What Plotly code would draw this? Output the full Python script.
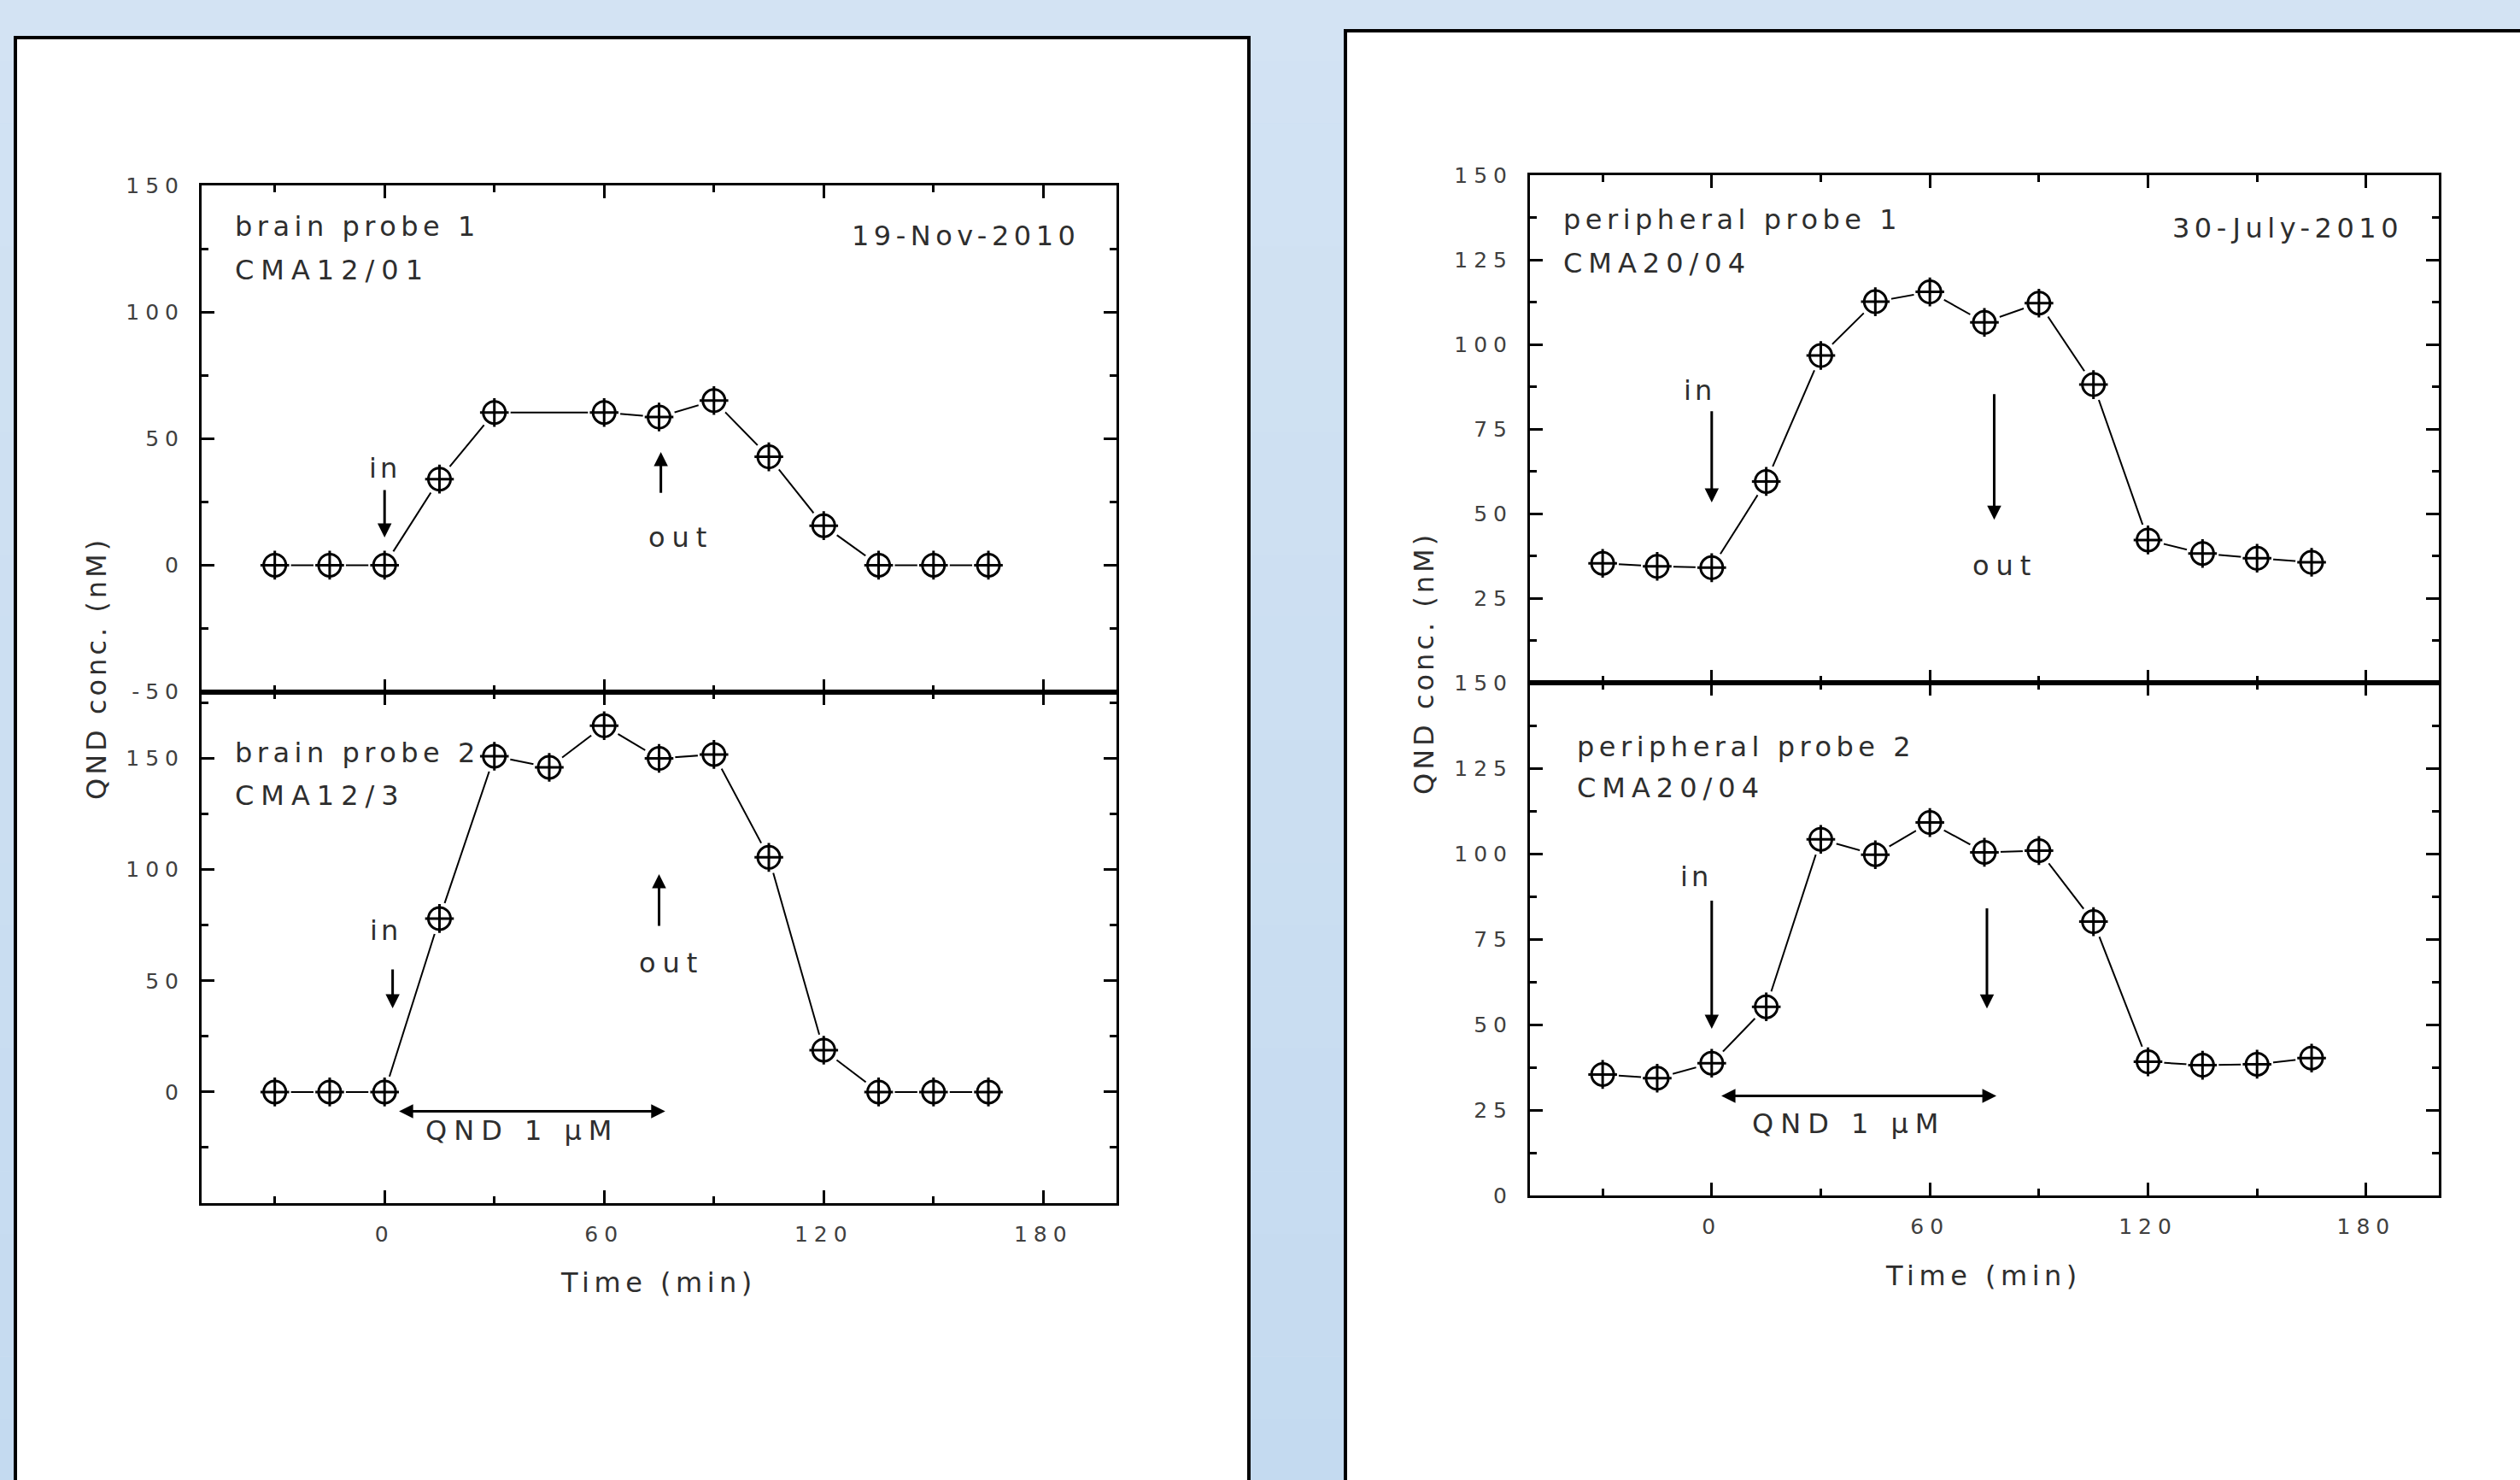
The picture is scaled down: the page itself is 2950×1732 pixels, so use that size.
import plotly.graph_objects as go

W, H = 2950, 1732

# ---------------- data ----------------
time_min = [-30, -15, 0, 15, 30, 45, 60, 75, 90, 105, 120, 135, 150, 165]
brain1_time = [-30, -15, 0, 15, 30, 60, 75, 90, 105, 120, 135, 150, 165]
brain1 = [0, 0, 0, 34, 60.3, 60.3, 58.5, 65, 42.8, 15.6, 0, 0, 0]
brain2 = [0, 0, 0, 78, 151, 146, 164.7, 150, 151.8, 105.5, 18.8, 0, 0, 0]
periph1 = [35.3, 34.4, 34.0, 59.5, 96.7, 112.6, 115.5, 106.5, 112.2, 88.1, 42.2, 38.2, 36.8, 35.6]
periph2 = [35.4, 34.3, 38.7, 55.2, 104.2, 99.7, 109.1, 100.4, 100.9, 80.1, 39.1, 38.1, 38.4, 40.2]

x_major = [0, 60, 120, 180]
x_minor = [-30, 30, 90, 150]
brain1_yticks = [-50, 0, 50, 100, 150]
brain1_yminor = [-25, 25, 75, 125]
brain2_yticks = [0, 50, 100, 150]
brain2_yminor = [-25, 25, 75, 125, 175]
periph1_yticks = [25, 50, 75, 100, 125, 150]
periph2_yticks = [0, 25, 50, 75, 100, 125, 150]
periph_yminor = [12.5, 37.5, 62.5, 87.5, 112.5, 137.5]

FONT = "DejaVu Sans"
TXT = "#2e2e2e"


def sp(t, ls=5.5):
    return f'<span style="letter-spacing:{ls}px">{t}</span>'


def px(x):
    return x / W


def py(y):
    return 1 - y / H


fig = go.Figure()

# subplot pixel frames
L_X = (236, 1307)
L_UP = (217, 809.5)
L_LO = (809.5, 1408)
R_X = (1791, 2855)
R_UP = (205, 799)
R_LO = (799, 1399)

halo = dict(symbol="circle", size=38, color="white", line=dict(width=0))
circ = dict(symbol="circle", size=26, color="white", line=dict(color="black", width=3))
cross = dict(symbol="cross-thin-open", size=24, color="black",
             line=dict(color="black", width=3))
line = dict(color="black", width=2)

for xs, ys, xa, ya in [(brain1_time, brain1, "x", "y"),
                       (time_min, brain2, "x2", "y2"),
                       (time_min, periph1, "x3", "y3"),
                       (time_min, periph2, "x4", "y4")]:
    fig.add_trace(go.Scatter(x=xs, y=ys, xaxis=xa, yaxis=ya, mode="lines+markers",
                             marker=halo, line=line))
    fig.add_trace(go.Scatter(x=xs, y=ys, xaxis=xa, yaxis=ya, mode="markers",
                             marker=circ))
    fig.add_trace(go.Scatter(x=xs, y=ys, xaxis=xa, yaxis=ya, mode="markers",
                             marker=cross))

tickfont = dict(family=FONT, size=25, color="#404040")


def xaxis(dom, anchor, labels):
    return dict(domain=[px(dom[0]), px(dom[1])], anchor=anchor, range=[-50, 200],
                tickmode="array", tickvals=x_major,
                ticktext=[sp(v, 7) for v in x_major] if labels else ["" for _ in x_major],
                showticklabels=labels, automargin=False,
                ticks="inside", ticklen=15, tickwidth=3, tickcolor="black",
                minor=dict(tickmode="array", tickvals=x_minor, ticks="inside",
                           ticklen=8, tickwidth=3, tickcolor="black"),
                showline=True, linecolor="black", linewidth=3, mirror="ticks",
                showgrid=False, zeroline=False, tickfont=tickfont,
                ticklabelstandoff=12, fixedrange=True)


def yaxis(dom, anchor, rng, ticks, minor):
    return dict(domain=[py(dom[1]), py(dom[0])], anchor=anchor, range=rng,
                tickmode="array", tickvals=ticks,
                ticktext=[sp(v, 7) for v in ticks], automargin=False,
                ticks="inside", ticklen=15, tickwidth=3, tickcolor="black",
                minor=dict(tickmode="array", tickvals=minor, ticks="inside",
                           ticklen=8, tickwidth=3, tickcolor="black"),
                showline=True, linecolor="black", linewidth=3, mirror="ticks",
                showgrid=False, zeroline=False, tickfont=tickfont,
                ticklabelstandoff=12, fixedrange=True)


fig.update_layout(
    xaxis=xaxis(L_X, "y", False),
    yaxis=yaxis(L_UP, "x", [-50, 150], brain1_yticks, brain1_yminor),
    xaxis2=xaxis(L_X, "y2", True),
    yaxis2=yaxis(L_LO, "x2", [-50, 180], brain2_yticks, brain2_yminor),
    xaxis3=xaxis(R_X, "y3", False),
    yaxis3=yaxis(R_UP, "x3", [0, 150], periph1_yticks, periph_yminor),
    xaxis4=xaxis(R_X, "y4", True),
    yaxis4=yaxis(R_LO, "x4", [0, 150], periph2_yticks, periph_yminor),
)

shapes = []
# soft vertical gradient of the light-blue backdrop
top_c, bot_c = (211, 227, 243), (196, 218, 240)
nb = 24
for i in range(nb):
    t = (i + 0.5) / nb
    c = tuple(round(top_c[k] + (bot_c[k] - top_c[k]) * t) for k in range(3))
    shapes.append(dict(type="rect", xref="paper", yref="paper", x0=0, x1=1,
                       y0=1 - (i + 1) / nb, y1=1 - i / nb,
                       fillcolor=f"rgb{c}", line=dict(width=0), layer="below"))

# white panels with black frames (open at the bottom)
for (x0, x1, top) in [(18, 1462, 44), (1575, W, 36)]:
    shapes.append(dict(type="rect", xref="paper", yref="paper", x0=px(x0), x1=px(x1),
                       y0=0, y1=py(top), fillcolor="white", line=dict(width=0),
                       layer="below"))
    shapes.append(dict(type="path", xref="paper", yref="paper",
                       path=f"M {px(x0)} 0 L {px(x0)} {py(top)} L {px(x1)} {py(top)}"
                            + (f" L {px(x1)} 0" if x1 < W else ""),
                       line=dict(color="black", width=4), layer="below"))

afont = dict(family=FONT, size=32, color=TXT)
ann = []


def text(t, x, y, xr, yr, xanchor="left", ls=5.5, size=32):
    ann.append(dict(text=sp(t, ls), x=x, y=y, xref=xr, yref=yr, showarrow=False,
                    xanchor=xanchor, yanchor="middle",
                    font=dict(family=FONT, size=size, color=TXT)))


def arrow(x, y, ax, ay, xr, yr, both=False):
    ann.append(dict(text="", x=x, y=y, ax=ax, ay=ay, xref=xr, yref=yr,
                    axref=xr, ayref=yr, showarrow=True, arrowhead=2,
                    arrowsize=1.1, arrowwidth=3, arrowcolor="black",
                    standoff=0, startstandoff=0,
                    arrowside="end+start" if both else "end",
                    startarrowhead=2, startarrowsize=1.1))


# left upper: brain probe 1
text("brain probe 1", -41.4, 133.8, "x", "y")
text("CMA12/01", -41.4, 116.6, "x", "y", ls=8)
text("19-Nov-2010", 190.5, 130.0, "x", "y", xanchor="right")
text("in", 0, 38.3, "x", "y", xanchor="center", ls=4)
arrow(0, 10.9, 0, 30.2, "x", "y")
text("out", 80.9, 10.9, "x", "y", xanchor="center", ls=8)
arrow(75.5, 44.7, 75.5, 28.1, "x", "y")

# left lower: brain probe 2
text("brain probe 2", -41.4, 152.5, "x2", "y2")
text("CMA12/3", -41.4, 133.3, "x2", "y2", ls=8)
text("in", 0.2, 72.6, "x2", "y2", xanchor="center", ls=4)
arrow(2.2, 37.6, 2.2, 55.7, "x2", "y2")
text("out", 78.3, 58.0, "x2", "y2", xanchor="center", ls=8)
arrow(75, 98.0, 75, 74.1, "x2", "y2")
arrow(76.7, -8.7, 3.6, -8.7, "x2", "y2", both=True)
text("QND 1 µM", 37.6, -17.2, "x2", "y2", xanchor="center", ls=8)

# right upper: peripheral probe 1
text("peripheral probe 1", -41.3, 136.9, "x3", "y3")
text("CMA20/04", -41.3, 124.0, "x3", "y3", ls=7)
text("30-July-2010", 190.5, 134.3, "x3", "y3", xanchor="right")
text("in", -3.3, 86.4, "x3", "y3", xanchor="center", ls=4)
arrow(0, 53.3, 0, 80.6, "x3", "y3")
text("out", 80.7, 34.5, "x3", "y3", xanchor="center", ls=8)
arrow(77.7, 48.2, 77.7, 85.7, "x3", "y3")

# right lower: peripheral probe 2
text("peripheral probe 2", -37.5, 131.25, "x4", "y4")
text("CMA20/04", -37.5, 119.25, "x4", "y4", ls=7)
text("in", -4.3, 93.3, "x4", "y4", xanchor="center", ls=4)
arrow(0, 48.75, 0, 86.6, "x4", "y4")
arrow(75.7, 54.7, 75.7, 84.4, "x4", "y4")
arrow(78.3, 29.1, 2.3, 29.1, "x4", "y4", both=True)
text("QND 1 µM", 37.6, 21.1, "x4", "y4", xanchor="center", ls=8)

# axis titles
for (xx, yy) in [(113, 782), (1667, 776)]:
    ann.append(dict(text=sp("QND conc. (nM)", 4), x=px(xx), y=py(yy), xref="paper",
                    yref="paper", showarrow=False, textangle=-90,
                    xanchor="center", yanchor="middle", font=afont))
for (xx, yy) in [(771, 1501), (2322, 1493)]:
    ann.append(dict(text=sp("Time (min)", 5.5), x=px(xx), y=py(yy), xref="paper",
                    yref="paper", showarrow=False,
                    xanchor="center", yanchor="middle", font=afont))

fig.update_layout(
    width=W, height=H, autosize=False,
    margin=dict(l=0, r=0, t=0, b=0, pad=0, autoexpand=False),
    paper_bgcolor="#cddff1", plot_bgcolor="rgba(0,0,0,0)",
    showlegend=False, shapes=shapes, annotations=ann,
    font=dict(family=FONT, color=TXT),
)

fig.write_html(
    "out.html",
    config={"displayModeBar": False, "staticPlot": True},
    post_script=("document.documentElement.style.margin='0';"
                 "document.documentElement.style.overflow='hidden';"
                 "document.body.style.margin='0';"
                 "document.body.style.overflow='hidden';"),
)
